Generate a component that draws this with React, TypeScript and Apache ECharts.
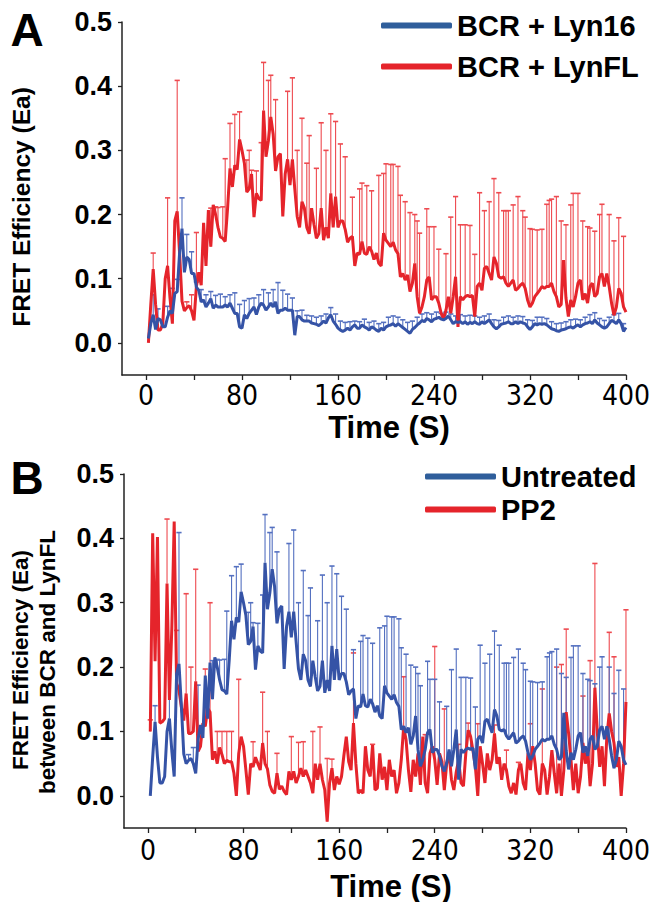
import React, { useEffect, useRef } from "react";
import * as echarts from "echarts";

// ---------- data ----------
const TIME_STEP = 2; // s between samples, first sample at 2 s
const X_TICKS = [0, 40, 80, 120, 160, 200, 240, 280, 320, 360, 400];
const X_LABELS = [0, 80, 160, 240, 320, 400];
const Y_TICKS = [0, 0.1, 0.2, 0.3, 0.4, 0.5];

// BCR + LynFL (panel A red) == Untreated (panel B blue)
const LYN_FL = [
  0.0, 0.06, 0.115, 0.06, 0.02, 0.02, 0.03, 0.1, 0.12, 0.07,
  0.03, 0.19, 0.205, 0.14, 0.065, 0.05, 0.055, 0.058, 0.05, 0.035,
  0.088, 0.11, 0.09, 0.187, 0.12, 0.207, 0.15, 0.215, 0.2, 0.18,
  0.165, 0.163, 0.158, 0.21, 0.272, 0.243, 0.277, 0.27, 0.317, 0.3,
  0.28, 0.235, 0.24, 0.263, 0.196, 0.233, 0.225, 0.222, 0.362, 0.29,
  0.315, 0.352, 0.325, 0.268, 0.29, 0.295, 0.197, 0.263, 0.286, 0.246,
  0.286, 0.24, 0.197, 0.18, 0.22, 0.21, 0.18, 0.17, 0.21, 0.185,
  0.163, 0.17, 0.21, 0.16, 0.18, 0.163, 0.233, 0.18, 0.228, 0.18,
  0.19, 0.19, 0.177, 0.157, 0.163, 0.166, 0.12, 0.14, 0.138, 0.158,
  0.14, 0.138, 0.15, 0.143, 0.13, 0.14, 0.124, 0.12, 0.171, 0.16,
  0.155, 0.15, 0.157, 0.145, 0.139, 0.103, 0.108, 0.098, 0.106, 0.08,
  0.093, 0.124, 0.072, 0.046, 0.056, 0.072, 0.098, 0.103, 0.067, 0.072,
  0.072, 0.062, 0.046, 0.038, 0.051, 0.072, 0.046, 0.072, 0.103, 0.025,
  0.072, 0.067, 0.072, 0.074, 0.072, 0.074, 0.041, 0.088, 0.093, 0.082,
  0.116, 0.119, 0.108, 0.098, 0.134, 0.124, 0.103, 0.101, 0.103, 0.093,
  0.088, 0.093, 0.098, 0.082, 0.085, 0.09, 0.093, 0.085, 0.067, 0.056,
  0.062, 0.072, 0.077, 0.082, 0.088, 0.085, 0.088, 0.088, 0.093, 0.08,
  0.072, 0.056, 0.06, 0.129, 0.07, 0.041, 0.067, 0.056, 0.072, 0.093,
  0.098, 0.067, 0.077, 0.062, 0.088, 0.093, 0.072, 0.077, 0.103, 0.108,
  0.088, 0.108, 0.088, 0.062, 0.043, 0.056, 0.085, 0.077, 0.056, 0.048,
];

// BCR + Lyn16 (panel A blue)
const LYN_16 = [
  0.007, 0.03, 0.044, 0.021, 0.038, 0.036, 0.025, 0.025, 0.04, 0.05,
  0.046, 0.077, 0.08, 0.14, 0.178, 0.11, 0.134, 0.13, 0.108, 0.108,
  0.087, 0.082, 0.064, 0.067, 0.056, 0.062, 0.069, 0.054, 0.059, 0.056,
  0.056, 0.056, 0.059, 0.056, 0.062, 0.054, 0.046, 0.046, 0.025, 0.023,
  0.044, 0.038, 0.046, 0.051, 0.056, 0.044, 0.056, 0.062, 0.059, 0.051,
  0.056, 0.062, 0.056, 0.064, 0.046, 0.051, 0.051, 0.054, 0.051, 0.051,
  0.051, 0.012, 0.041, 0.041, 0.036, 0.034, 0.034, 0.034, 0.031, 0.03,
  0.029, 0.027, 0.03, 0.034, 0.031, 0.039, 0.044, 0.034, 0.029, 0.023,
  0.02, 0.018, 0.02, 0.023, 0.02, 0.025, 0.028, 0.023, 0.023, 0.028,
  0.025, 0.023, 0.02, 0.025, 0.023, 0.02, 0.018, 0.023, 0.02, 0.025,
  0.027, 0.028, 0.03, 0.026, 0.03, 0.027, 0.024, 0.021, 0.018, 0.015,
  0.021, 0.024, 0.028, 0.031, 0.035, 0.033, 0.038, 0.036, 0.033, 0.037,
  0.038, 0.04, 0.037, 0.036, 0.038, 0.042, 0.036, 0.03, 0.033, 0.032,
  0.033, 0.03, 0.033, 0.029, 0.032, 0.03, 0.033, 0.03, 0.029, 0.033,
  0.03, 0.033, 0.036, 0.03, 0.025, 0.022, 0.025, 0.029, 0.03, 0.031,
  0.033, 0.03, 0.03, 0.033, 0.03, 0.033, 0.031, 0.03, 0.025, 0.021,
  0.025, 0.03, 0.028, 0.03, 0.029, 0.03, 0.028, 0.025, 0.022, 0.021,
  0.019, 0.018, 0.02, 0.021, 0.022, 0.024, 0.025, 0.023, 0.026, 0.028,
  0.025, 0.028, 0.03, 0.031, 0.033, 0.03, 0.036, 0.031, 0.028, 0.025,
  0.023, 0.025, 0.03, 0.035, 0.033, 0.03, 0.036, 0.03, 0.018, 0.024,
];

// PP2 (panel B red)
const PP2 = [
  0.1, 0.408, 0.209, 0.402, 0.113, 0.115, 0.12, 0.33, 0.149, 0.26,
  0.426, 0.175, 0.164, 0.138, 0.117, 0.159, 0.097, 0.097, 0.1, 0.178,
  0.069, 0.077, 0.113, 0.108, 0.136, 0.13, 0.056, 0.069, 0.05, 0.075,
  0.064, 0.05, 0.055, 0.053, 0.053, 0.035, 0.0, 0.066, 0.092, 0.077,
  0.04, 0.002, 0.05, 0.045, 0.06, 0.05, 0.04, 0.082, 0.05, 0.042,
  0.017, 0.007, 0.004, 0.035, 0.01, 0.015, 0.007, 0.002, 0.038, 0.025,
  0.038, 0.02, 0.03, 0.043, 0.03, 0.04, 0.03, 0.02, 0.004, 0.05,
  0.025, 0.05, 0.025, 0.009, -0.04, 0.02, 0.043, 0.009, 0.03, 0.018,
  0.03, 0.063, 0.092, 0.053, 0.04, 0.113, 0.05, 0.004, 0.009, 0.004,
  0.077, 0.04, 0.03, 0.079, 0.009, 0.012, 0.066, 0.025, 0.045, 0.009,
  0.056, 0.03, 0.04, 0.004, 0.02, 0.056, 0.107, 0.087, 0.04, 0.006,
  0.056, 0.03, 0.066, 0.017, 0.092, 0.02, 0.004, 0.066, 0.077, 0.056,
  0.017, 0.066, 0.053, 0.009, 0.05, 0.066, 0.025, 0.009, 0.037, 0.056,
  0.02, 0.015, 0.066, 0.102, 0.092, 0.07, 0.045, 0.0, 0.077, 0.05,
  0.02, 0.066, 0.04, 0.056, 0.097, 0.05, 0.06, 0.025, 0.05, 0.04,
  0.015, 0.004, 0.02, 0.002, 0.04, 0.05, 0.02, 0.009, 0.066, 0.04,
  0.077, 0.05, 0.009, 0.002, 0.05, 0.04, 0.002, 0.03, 0.071, 0.035,
  0.004, 0.05, 0.0, 0.04, 0.13, 0.097, 0.056, 0.009, 0.05, 0.004,
  0.03, 0.082, 0.05, 0.071, 0.015, 0.05, 0.168, 0.1, 0.045, 0.077,
  0.015, 0.092, 0.128, 0.1, 0.082, 0.045, 0.06, 0.0, 0.05, 0.146,
];

// upper error bars: [time, top value]
const ERR_LYN_FL = [
  [6, 0.14], [18, 0.226], [26, 0.409], [34, 0.064], [38, 0.075], [42, 0.172],
  [54, 0.21], [58, 0.212], [60, 0.211], [64, 0.212], [66, 0.287], [70, 0.342],
  [74, 0.356], [78, 0.36], [84, 0.285], [86, 0.3], [88, 0.269], [92, 0.268],
  [96, 0.312], [98, 0.437], [102, 0.409], [104, 0.417], [108, 0.379], [118, 0.392],
  [122, 0.413], [126, 0.3], [130, 0.35], [134, 0.28], [136, 0.323], [142, 0.272],
  [146, 0.343], [150, 0.3], [154, 0.357], [158, 0.345], [162, 0.31], [166, 0.29],
  [172, 0.227], [178, 0.24], [180, 0.249], [184, 0.245], [188, 0.237], [194, 0.261],
  [198, 0.264], [200, 0.279], [204, 0.278], [206, 0.278], [210, 0.275], [212, 0.23],
  [216, 0.22], [220, 0.203], [224, 0.2], [226, 0.19], [228, 0.171], [234, 0.209],
  [236, 0.181], [240, 0.181], [244, 0.146], [250, 0.139], [254, 0.196], [258, 0.228],
  [262, 0.184], [266, 0.184], [270, 0.183], [274, 0.138], [278, 0.234], [282, 0.206],
  [286, 0.22], [290, 0.256], [294, 0.234], [298, 0.206], [300, 0.206], [302, 0.206],
  [306, 0.215], [310, 0.228], [314, 0.206], [316, 0.196], [320, 0.178], [322, 0.177],
  [326, 0.176], [330, 0.177], [334, 0.216], [336, 0.222], [338, 0.224], [342, 0.228],
  [346, 0.19], [350, 0.184], [354, 0.215], [356, 0.233], [360, 0.233], [364, 0.19],
  [368, 0.181], [370, 0.179], [374, 0.174], [378, 0.2], [380, 0.216], [386, 0.2],
  [390, 0.159], [394, 0.195], [398, 0.166],
];

const ERR_LYN_16 = [
  [6, 0.075], [10, 0.053], [18, 0.057], [22, 0.085], [26, 0.099], [30, 0.226],
  [34, 0.169], [38, 0.142], [42, 0.095], [46, 0.083], [50, 0.075], [54, 0.08],
  [58, 0.074], [62, 0.076], [66, 0.072], [70, 0.075], [74, 0.078], [78, 0.06],
  [82, 0.066], [86, 0.069], [90, 0.07], [94, 0.075], [98, 0.083], [102, 0.078],
  [106, 0.083], [110, 0.094], [114, 0.082], [118, 0.076], [122, 0.07], [126, 0.05],
  [130, 0.051], [134, 0.043], [138, 0.042], [142, 0.04], [146, 0.042], [150, 0.045],
  [154, 0.055], [158, 0.045], [162, 0.034], [166, 0.032], [170, 0.033], [174, 0.034],
  [178, 0.033], [182, 0.037], [186, 0.032], [190, 0.034], [194, 0.03], [198, 0.032],
  [202, 0.04], [206, 0.042], [210, 0.04], [214, 0.036], [218, 0.032], [222, 0.034],
  [226, 0.04], [230, 0.045], [234, 0.047], [238, 0.045], [242, 0.048], [246, 0.046],
  [250, 0.048], [254, 0.045], [258, 0.042], [262, 0.044], [266, 0.042], [270, 0.043],
  [274, 0.042], [278, 0.04], [282, 0.042], [286, 0.045], [290, 0.036], [294, 0.035],
  [298, 0.04], [302, 0.042], [306, 0.04], [310, 0.042], [314, 0.041], [318, 0.036],
  [322, 0.035], [326, 0.04], [330, 0.04], [334, 0.038], [338, 0.033], [342, 0.03],
  [346, 0.031], [350, 0.033], [354, 0.036], [358, 0.037], [362, 0.036], [366, 0.04],
  [370, 0.044], [374, 0.047], [378, 0.038], [382, 0.035], [386, 0.04], [390, 0.044],
  [394, 0.046], [398, 0.03],
];

const ERR_PP2 = [
  [2, 0.118], [16, 0.43], [24, 0.257], [32, 0.314], [36, 0.2], [40, 0.352],
  [48, 0.197], [52, 0.3], [58, 0.1], [62, 0.1], [66, 0.1], [70, 0.1],
  [76, 0.181], [88, 0.084], [96, 0.161], [100, 0.1], [108, 0.066], [120, 0.092],
  [126, 0.083], [130, 0.084], [138, 0.1], [144, 0.107], [150, 0.058], [154, 0.057],
  [172, 0.222], [188, 0.08], [214, 0.185], [232, 0.095], [240, 0.232], [248, 0.135],
  [260, 0.08], [268, 0.113], [276, 0.112], [290, 0.11], [300, 0.071], [310, 0.052],
  [320, 0.112], [330, 0.166], [342, 0.2], [346, 0.204], [350, 0.259], [364, 0.155],
  [370, 0.21], [374, 0.361], [386, 0.254], [390, 0.216], [400, 0.289],
];

// ---------- styling ----------
const RED = "#e5242b";
const RED_ERR = "#ee4a50";
const BLUE = "#3553a6";
const BLUE_ERR = "#5470c0";
const LEGEND_BLUE = "#2f5e9b";
const FONT = "'Liberation Sans', Arial, Helvetica, sans-serif";
const NARROW = "'Liberation Sans Narrow', 'Arial Narrow', 'DejaVu Sans Condensed', sans-serif";

const TIMES = LYN_FL.map((_, i) => (i + 1) * TIME_STEP);
const toLine = (vals: number[]) => vals.map((v, i) => [TIMES[i], v]);
const toErr = (vals: number[], errs: number[][]) =>
  errs.map(([t, top]) => [t, vals[Math.round(t / TIME_STEP) - 1], top]);

function errSeries(name: string, data: number[][], color: string, gi: number) {
  return {
    name,
    type: "custom",
    xAxisIndex: gi,
    yAxisIndex: gi,
    silent: true,
    z: 1,
    encode: { x: 0, y: [1, 2] },
    data,
    renderItem: (_params: any, api: any) => {
      const t = api.value(0);
      const p1 = api.coord([t, api.value(1)]);
      const p2 = api.coord([t, api.value(2)]);
      return {
        type: "group",
        children: [
          {
            type: "line",
            shape: { x1: p1[0], y1: p1[1], x2: p2[0], y2: p2[1] },
            style: { stroke: color, lineWidth: 1.1 },
          },
          {
            type: "line",
            shape: { x1: p2[0] - 2.6, y1: p2[1], x2: p2[0] + 2.6, y2: p2[1] },
            style: { stroke: color, lineWidth: 1.6 },
          },
        ],
      };
    },
  };
}

function lineSeries(name: string, vals: number[], color: string, gi: number, z: number) {
  return {
    name,
    type: "line",
    xAxisIndex: gi,
    yAxisIndex: gi,
    data: toLine(vals),
    showSymbol: false,
    symbol: "none",
    z,
    lineStyle: { color, width: 3 },
    itemStyle: { color },
  };
}

const axisLineStyle = { show: true, onZero: false, lineStyle: { color: "#222", width: 1.5 } };

function xAxis(gi: number, margin: number) {
  return {
    gridIndex: gi,
    type: "value",
    min: -20,
    max: 400,
    axisLine: axisLineStyle,
    axisTick: {
      show: true,
      customValues: X_TICKS,
      length: 5,
      lineStyle: { color: "#222", width: 1.3 },
    },
    axisLabel: {
      customValues: X_LABELS,
      margin,
      color: "#000",
      fontSize: 28,
      fontFamily: NARROW,
    },
    splitLine: { show: false },
  };
}

function yAxis(gi: number) {
  return {
    gridIndex: gi,
    type: "value",
    min: -0.05,
    max: 0.5,
    axisLine: axisLineStyle,
    axisTick: {
      show: true,
      customValues: Y_TICKS,
      length: 4,
      lineStyle: { color: "#222", width: 1.3 },
    },
    axisLabel: {
      customValues: Y_TICKS,
      margin: 10,
      color: "#000",
      fontSize: 27,
      fontWeight: "bold",
      fontFamily: FONT,
      formatter: (v: number) => v.toFixed(1),
    },
    splitLine: { show: false },
  };
}

function text(x: number, y: number, str: string, size: number, rotate = 0) {
  return {
    type: "text",
    x,
    y,
    rotation: rotate,
    silent: true,
    style: {
      text: str,
      fill: "#000",
      font: `bold ${size}px ${FONT}`,
      align: "center",
      verticalAlign: "middle",
    },
  };
}

export default function App() {
  const ref = useRef<HTMLDivElement>(null);
  useEffect(() => {
    if (!ref.current) return;
    const chart = echarts.init(ref.current, null, { renderer: "svg" });
    chart.setOption({
      animation: false,
      backgroundColor: "#fff",
      textStyle: { fontFamily: FONT },
      grid: [
        { left: 122, top: 22, width: 504, height: 353 },
        { left: 124, top: 474, width: 505, height: 354 },
      ],
      xAxis: [xAxis(0, 6), xAxis(1, 8)],
      yAxis: [yAxis(0), yAxis(1)],
      legend: [
        {
          orient: "vertical",
          left: 376,
          top: 6,
          itemWidth: 71,
          itemHeight: 6,
          itemGap: 12,
          icon: "roundRect",
          textStyle: { fontSize: 29, fontWeight: "bold", color: "#000", fontFamily: FONT },
          data: [
            { name: "BCR + Lyn16", itemStyle: { color: LEGEND_BLUE } },
            { name: "BCR + LynFL", itemStyle: { color: RED } },
          ],
        },
        {
          orient: "vertical",
          left: 420,
          top: 457,
          itemWidth: 71,
          itemHeight: 6,
          itemGap: 4,
          icon: "roundRect",
          textStyle: { fontSize: 29, fontWeight: "bold", color: "#000", fontFamily: FONT },
          data: [
            { name: "Untreated", itemStyle: { color: LEGEND_BLUE } },
            { name: "PP2", itemStyle: { color: RED } },
          ],
        },
      ],
      series: [
        errSeries("errFL", toErr(LYN_FL, ERR_LYN_FL), RED_ERR, 0),
        errSeries("err16", toErr(LYN_16, ERR_LYN_16), BLUE_ERR, 0),
        lineSeries("BCR + LynFL", LYN_FL, RED, 0, 3),
        lineSeries("BCR + Lyn16", LYN_16, BLUE, 0, 4),
        errSeries("errPP2", toErr(PP2, ERR_PP2), RED_ERR, 1),
        errSeries("errUnt", toErr(LYN_FL, ERR_LYN_FL), BLUE_ERR, 1),
        lineSeries("PP2", PP2, RED, 1, 3),
        lineSeries("Untreated", LYN_FL, BLUE, 1, 4),
      ],
      graphic: [
        text(27, 30, "A", 46),
        text(27, 478, "B", 46),
        text(21, 207, "FRET Efficiency (Ea)", 24.5, Math.PI / 2),
        text(20, 660, "FRET Efficiency (Ea)", 22.5, Math.PI / 2),
        text(47, 662, "between BCR and LynFL", 22.5, Math.PI / 2),
        text(389, 427, "Time (S)", 31),
        text(391, 886, "Time (S)", 31),
      ],
    });
    return () => chart.dispose();
  }, []);
  return (
    <div
      ref={ref}
      style={{ position: "absolute", left: 0, top: 0, width: 653, height: 902 }}
    />
  );
}
